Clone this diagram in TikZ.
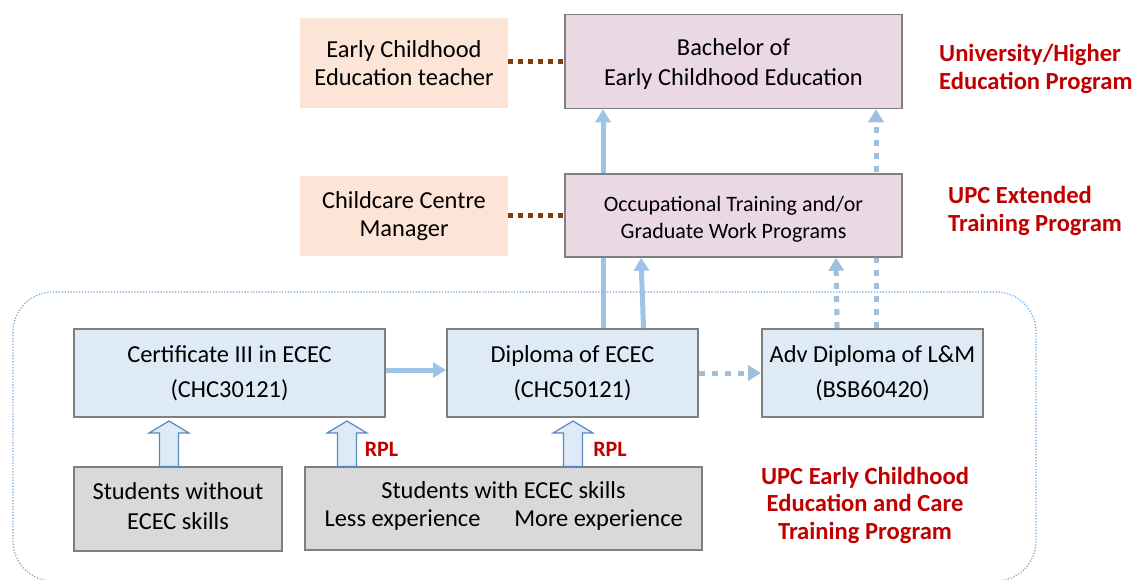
\documentclass[tikz,border=0pt]{standalone}
\usepackage{fontspec}
\setmainfont{Carlito}
\usetikzlibrary{arrows.meta,calc,backgrounds}
\definecolor{pinkbox}{HTML}{EAD9E3}
\definecolor{peachbox}{HTML}{FCE4D6}
\definecolor{bluebox}{HTML}{DEEBF7}
\definecolor{graybox}{HTML}{D9D9D9}
\definecolor{boxborder}{HTML}{7F7F7F}
\definecolor{upcred}{HTML}{C00000}
\definecolor{arrowblue}{HTML}{9DC3E6}
\definecolor{dotblue}{HTML}{A2BEDD}
\definecolor{brownline}{HTML}{843C0C}
\definecolor{frameblue}{HTML}{5B9BD5}
\definecolor{blkline}{HTML}{5B87C0}
\newcommand\blkarrow[2]{%
  \draw[blk] ($(#1)+(-9.5,0)$) -- ($(#2)+(-9.5,12)$) -- ($(#2)+(-20,12)$) -- (#2)
    -- ($(#2)+(20,12)$) -- ($(#2)+(9.5,12)$) -- ($(#1)+(9.5,0)$) -- cycle;}
\begin{document}
\begin{tikzpicture}[x=1pt,y=-1pt,
  every node/.style={inner sep=0pt, align=center},
  every label/.style={inner sep=0pt, align=center},
  mainfont/.style={font=\fontsize{24.4}{28.5}\selectfont},
  peach/.style={fill=peachbox, mainfont},
  pinkb/.style={fill=pinkbox, draw=boxborder, line width=1.5pt},
  blueb/.style={fill=bluebox, draw=boxborder, line width=2pt, font=\fontsize{24.4}{35}\selectfont},
  grayb/.style={fill=graybox, draw=boxborder, line width=1.3pt, mainfont},
  redlabel/.style={text=upcred, font=\bfseries\fontsize{24.6}{27.5}\selectfont},
  rpl/.style={text=upcred, font=\bfseries\fontsize{22}{24}\selectfont},
  solidarrow/.style={draw=arrowblue, line width=5pt, -{Triangle[width=15pt,length=13pt]}},
  dotarrow/.style={draw=dotblue, line width=5pt, dash pattern=on 6pt off 7pt, -{Triangle[width=15pt,length=13pt]}},
  brown/.style={draw=brownline, line width=5pt, dash pattern=on 5pt off 5pt},
  blk/.style={fill=bluebox, draw=blkline, line width=1.2pt, line join=miter},
]
\useasboundingbox (0,0) rectangle (1139,579);

% outer frame
\draw[frameblue!85, line width=1.2pt, dash pattern=on 1.3pt off 1.6pt, rounded corners=40pt] (13,292) rectangle (1036,581);

% top nodes
\node[peach, minimum width=208pt, minimum height=90pt] (ect) at (404,63) {Early Childhood\\Education teacher};
\node[pinkb, minimum width=337pt, minimum height=94pt,
  label={[font=\fontsize{24.4}{30}\selectfont, yshift=-2.5pt]center:{Bachelor of\\Early Childhood Education}}] (bach) at (733.5,61.5) {};
\node[redlabel, anchor=west, align=left] (uni) at (939,69) {University/Higher\\Education Program};

\node[peach, minimum width=208pt, minimum height=80pt] (ccm) at (404,216) {Childcare Centre\\Manager};
\node[pinkb, minimum width=337pt, minimum height=83pt,
  label={[font=\fontsize{22}{27}\selectfont, yshift=-3.5pt]center:{Occupational Training and/or\\Graduate Work Programs}}] (occ) at (733.5,215.5) {};
\node[redlabel, anchor=west, align=left] (ext) at (948,211) {UPC Extended\\Training Program};

% middle nodes
\node[blueb, minimum width=311pt, minimum height=88pt] (cert) at (229.5,373) {Certificate III in ECEC\\(CHC30121)};
\node[blueb, minimum width=251pt, minimum height=88pt] (dip) at (572.5,373) {Diploma of ECEC\\(CHC50121)};
\node[blueb, minimum width=221pt, minimum height=88pt] (adv) at (872.5,373) {Adv Diploma of L\&M\\(BSB60420)};

% bottom nodes
\node[grayb, minimum width=208pt, minimum height=84pt,
  label={[font=\fontsize{24.4}{30}\selectfont, yshift=2.5pt]center:{Students without\\ECEC skills}}] (s1) at (178,509) {};
\node[grayb, minimum width=397pt, minimum height=83pt] (s2) at (503.5,508.5) {};
\node[mainfont] (s2a) at (503.5,490) {Students with ECEC skills};
\node[mainfont] (s2b) at (402.5,520) {Less experience};
\node[mainfont] (s2c) at (598.5,520) {More experience};

\node[rpl] (rpl1) at (381.5,449) {RPL};
\node[rpl] (rpl2) at (610,449) {RPL};
\node[redlabel] (ecec) at (865,505) {UPC Early Childhood\\Education and Care\\Training Program};

% connectors
\draw[brown] (ect.east |- bach.west) -- (bach.west);
\draw[brown] (ccm.east |- occ.west) -- (occ.west);

\draw[solidarrow] ([yshift=3pt]cert.east) -- ([yshift=3pt]dip.west);
\draw[dotarrow] (dip.east) -- (adv.west);

\begin{pgfonlayer}{background}
\draw[solidarrow] ([xshift=30.5pt]dip.north) -- ([xshift=-130.5pt]bach.south);
\draw[dotarrow] ([xshift=3.5pt]adv.north) -- ([xshift=142.5pt]bach.south);
\end{pgfonlayer}
\draw[solidarrow] ([xshift=71pt]dip.north) -- ([xshift=-92.5pt]occ.south);
\draw[dotarrow] ([xshift=-35.5pt]adv.north) -- ([xshift=102.5pt]occ.south);

% block arrows
\coordinate (b1) at ($(s1.north)+(-9,0)$);
\coordinate (t1) at ($(cert.south)+(-60.5,3)$);
\coordinate (b2) at ($(s2.north)+(-156.5,0)$);
\coordinate (t2) at ($(cert.south)+(117.5,3)$);
\coordinate (b3) at ($(s2.north)+(69.5,0)$);
\coordinate (t3) at ($(dip.south)+(0.5,3)$);
\blkarrow{b1}{t1}
\blkarrow{b2}{t2}
\blkarrow{b3}{t3}
\end{tikzpicture}
\end{document}
